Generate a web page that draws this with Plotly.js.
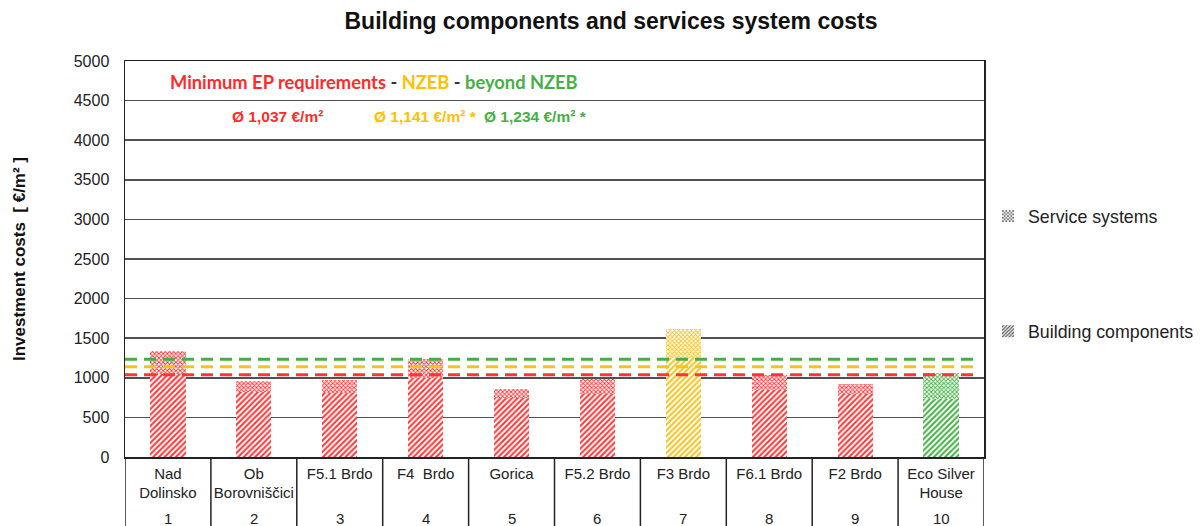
<!DOCTYPE html>
<html>
<head>
<meta charset="utf-8">
<script src="https://cdn.plot.ly/plotly-3.0.1.min.js"></script>
<style>html,body{margin:0;padding:0;background:#fff;}#chart{width:1200px;height:526px;}</style>
</head>
<body>
<div id="chart"></div>
<script>
const categories = ['Nad<br>Dolinsko','Ob<br>Borovniščici','F5.1 Brdo','F4  Brdo','Gorica','F5.2 Brdo','F3 Brdo','F6.1 Brdo','F2 Brdo','Eco Silver<br>House'];
const buildingNumbers = ['1','2','3','4','5','6','7','8','9','10'];
const buildingComponents = [1050, 820, 808, 1000, 750, 792, 1250, 842, 800, 737];
const serviceSystems = [285, 140, 170, 242, 113, 198, 371, 190, 127, 324];
const efficiencyClass = ['min','min','min','min','min','min','nzeb','min','min','beyond'];
const averages = [1037, 1141, 1234];
const averageLabels = ['Ø 1,037 €/m²', 'Ø 1,141 €/m² *', 'Ø 1,234 €/m² *'];
const averageClasses = ['min','nzeb','beyond'];
const seriesNames = ['Building components','Service systems'];

const classColor = {min:'#ff3535', nzeb:'#f7c21c', beyond:'#43b043'};
const textColor = {min:'#ff2b2b', nzeb:'#ffc000', beyond:'#45b045'};
const barColors = efficiencyClass.map(c => classColor[c]);
const FONT = 'Liberation Sans, Arial, sans-serif';

const traces = [
  {
    type:'bar', x: categories, y: buildingComponents, name: seriesNames[0], showlegend:false,
    marker:{color:'#ffffff', line:{width:0}, pattern:{shape:'/', fgcolor: barColors, bgcolor:'#ffffff', size:4, solidity:0.5}},
    hoverinfo:'y'
  },
  {
    type:'bar', x: categories, y: serviceSystems, name: seriesNames[1], showlegend:false,
    marker:{color:'#ffffff', line:{width:0}, pattern:{shape:'x', fgcolor: barColors, bgcolor:'#ffffff', size:3, solidity:0.5}},
    hoverinfo:'y'
  },
  {
    type:'bar', x: [null], y: [null], name: seriesNames[1], legendgroup:'s', hoverinfo:'skip',
    marker:{color:'#ffffff', pattern:{shape:'x', fgcolor:'#555', bgcolor:'#fff', size:3, solidity:0.5}}
  },
  {
    type:'bar', x: [null], y: [null], name: seriesNames[0], legendgroup:'b', hoverinfo:'skip',
    marker:{color:'#ffffff', pattern:{shape:'/', fgcolor:'#555', bgcolor:'#fff', size:3, solidity:0.5}}
  }
];

const shapes = [];
averages.forEach((v, i) => {
  shapes.push({type:'line', xref:'paper', x0:0, x1:0.995, yref:'y', y0:v, y1:v,
    line:{color: classColor[averageClasses[i]], width:3, dash:'12px,7px'}, layer:'above'});
});
for (let i = 0; i <= categories.length; i++) {
  shapes.push({type:'line', xref:'x', x0:i - 0.5, x1:i - 0.5, yref:'paper', y0:0, y1:-0.2,
    line:{color:'#222', width:1.5}});
}

const annotations = [];
buildingNumbers.forEach((n, i) => {
  annotations.push({xref:'x', x:i, yref:'paper', y:-0.155, yanchor:'middle', text:n, showarrow:false,
    font:{family:FONT, size:15, color:'#222'}});
});
annotations.push({
  xref:'paper', x:(374-125)/859, yref:'paper', y:(456.7-82)/396, xanchor:'center', yanchor:'middle', showarrow:false,
  text:'<b><span style="color:' + textColor.min + '">Minimum EP requirements</span>' +
       '<span style="color:#333"> - </span><span style="color:' + textColor.nzeb + '">NZEB</span>' +
       '<span style="color:#333"> - </span><span style="color:' + textColor.beyond + '">beyond NZEB</span></b>',
  font:{family:'Lato, sans-serif', size:18.3}
});
const avgCenters = [277, 425, 535];
averageLabels.forEach((t, i) => {
  annotations.push({xref:'paper', x:(avgCenters[i]-125)/859, yref:'paper', y:(456.7-116)/396,
    xanchor:'center', yanchor:'middle', showarrow:false, text:'<b>' + t + '</b>',
    font:{family:FONT, size:15.5, color:textColor[averageClasses[i]]}});
});

const layout = {
  width:1200, height:526,
  margin:{l:125, r:216, t:61, b:69},
  paper_bgcolor:'#fff', plot_bgcolor:'#fff',
  barmode:'stack', bargap:0.59,
  title:{text:'<b>Building components and services system costs</b>', x:611/1200, xanchor:'center', xref:'container', y:1-21/526, yref:'container', yanchor:'middle',
    font:{family:FONT, size:23, color:'#111'}},
  xaxis:{type:'category', range:[-0.5, 9.5], autorange:false, showgrid:false,
    showline:true, linecolor:'#222', linewidth:1.5, mirror:true, ticks:'', ticklabelstandoff:2,
    tickfont:{family:FONT, size:15, color:'#222'}, fixedrange:true},
  yaxis:{range:[0,5000], autorange:false, dtick:500, showgrid:true, gridcolor:'#505050', gridwidth:1.5,
    showline:true, linecolor:'#222', linewidth:1.5, mirror:true, zeroline:false, ticks:'', ticklabelstandoff:11,
    tickfont:{family:FONT, size:16, color:'#222'},
    title:{text:'<b>Investment costs  [ €/m² ]</b>', standoff:44, font:{family:FONT, size:17, color:'#111'}}},
  legend:{xref:'container', yref:'container', x:988/1200, xanchor:'left', y:1-198/526, yanchor:'top', traceorder:'grouped', tracegroupgap:89,
    font:{family:FONT, size:17.8, color:'#222'}, bgcolor:'rgba(0,0,0,0)', itemwidth:30},
  shapes: shapes,
  annotations: annotations
};

Plotly.newPlot('chart', traces, layout, {staticPlot:true, displayModeBar:false});
</script>
</body>
</html>
